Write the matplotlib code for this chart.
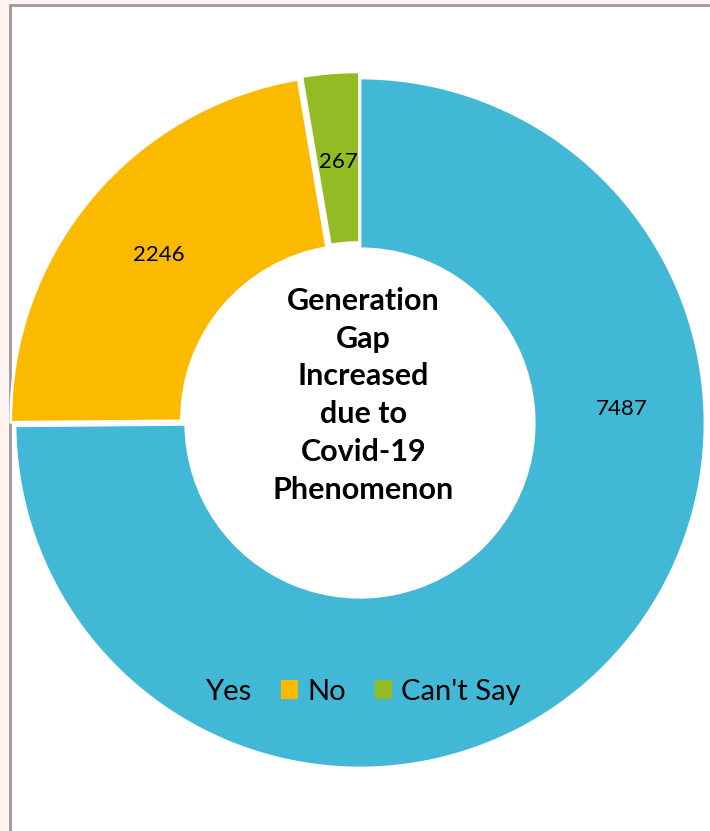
import matplotlib.pyplot as plt
from matplotlib.patches import Rectangle
import numpy as np

# --- DATA ---
labels = ["Yes", "No", "Can't Say"]
counts = [7487, 2246, 267]
colors = ["#41B8D5", "#FBBA00", "#92BB24"]
explode = [0.0, 0.016, 0.018]
center_title = "Generation\nGap\nIncreased\ndue to\nCovid-19\nPhenomenon"

W, H = 710, 831
fig = plt.figure(figsize=(W / 100, H / 100), dpi=100)
fig.patch.set_facecolor("#FEF3F1")

# white chart area with grey frame (drawn below the axes)
frame = Rectangle((9.5 / W, -0.05), 1.1, 1 - 5.5 / H + 0.05, transform=fig.transFigure,
                  facecolor="white", edgecolor="#999999", linewidth=2, zorder=-5)
fig.patches.append(frame)

# donut: centre (360, 423) px, outer radius 345 px
R, cx, cy = 345, 360, H - 423
lim = 1.1
ax = fig.add_axes([(cx - lim * R) / W, (cy - lim * R) / H, 2 * lim * R / W, 2 * lim * R / H])
wedges, _ = ax.pie(counts, colors=colors, startangle=90, counterclock=False,
                   explode=explode, radius=1.0,
                   wedgeprops=dict(width=0.495, edgecolor="white", linewidth=2))
ax.set_xlim(-lim, lim)
ax.set_ylim(-lim, lim)
ax.set_aspect("equal")
ax.axis("off")

# value labels
label_r = 0.76
for i, (w, v) in enumerate(zip(wedges, counts)):
    mid = 0.5 * (w.theta1 + w.theta2)
    if i == 0:
        mid = 3.0  # Excel puts the big slice label near 3 o'clock
    x, y = label_r * np.cos(np.radians(mid)), label_r * np.sin(np.radians(mid))
    ax.text(x, y, str(v), ha="center", va="center", fontsize=16, family="Lato", color="black")

ax.text(0.01, 0.08, center_title, ha="center", va="center", fontsize=22,
        fontweight="bold", family="Lato", linespacing=1.43, color="black")

leg = ax.legend(wedges, labels, loc="center",
                bbox_to_anchor=(0.5 - 10 / (2 * lim * R), (H - 692 - (cy - lim * R)) / (2 * lim * R)),
                ncol=3, frameon=False, prop=dict(family="Lato", size=21),
                handlelength=0.6, handleheight=0.6, handletextpad=0.3, columnspacing=1.0)
for h in leg.legend_handles:
    h.set_edgecolor("none")

fig.savefig("out.png", dpi=100)
